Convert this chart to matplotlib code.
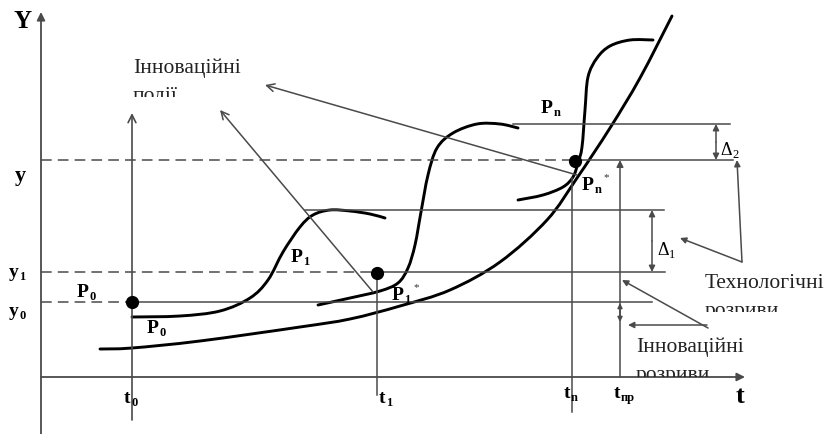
import matplotlib
matplotlib.use("Agg")
import matplotlib.pyplot as plt
from matplotlib.path import Path
from matplotlib.patches import PathPatch
from matplotlib.transforms import Bbox, TransformedBbox
import numpy as np

# ---------------- diagram geometry (pixel space of the 827x434 picture) -------------
W, H = 827, 434
axis_origin = (41, 377)
y_axis_top = 12
t_axis_right = 745

# level lines: (y, dashed_from, dashed_to, solid_to)
lvl_y = [160, 272, 302]
lvl_dash_x0 = [41, 41, 41]
lvl_dash_x1 = [572, 377, 132]
lvl_solid_x1 = [733, 665, 652]
# solid plateau lines
plat_y = [124, 210]
plat_x0 = [513, 305]
plat_x1 = [730, 664]

# vertical time lines: x, y_top, y_bottom
t_x = [132, 377, 572, 620]
t_top = [113, 273, 178, 160]
t_bot = [420, 395, 412, 377]

# curves
base_x = [100, 132, 200, 300, 350, 400, 450, 500, 547, 577, 610, 640, 672]
base_y = [349, 348, 341, 327, 319, 306, 290, 262, 220, 178, 128, 78, 16]
s1_x = [132, 180, 220, 250, 268, 283, 300, 313, 330, 350, 370, 385]
s1_y = [317, 316, 311, 298, 280, 252, 227, 215, 210, 211, 214, 218]
s2_x = [318, 350, 380, 398, 408, 415, 421, 428, 437, 453, 477, 500, 518]
s2_y = [305, 298, 291, 283, 268, 245, 212, 175, 148, 133, 124, 124, 128]
s3_x = [518, 543, 563, 573, 578, 582, 585, 588, 597, 610, 630, 653]
s3_y = [200, 195, 187, 177, 163, 147, 110, 77, 58, 46, 40, 40]

dot_x = [132, 377, 575]
dot_y = [302, 273, 161]

GRAY = "#4a4a4a"
SERIF = ["Liberation Serif", "DejaVu Serif"]

fig = plt.figure(figsize=(W / 100, H / 100), dpi=100)
ax = fig.add_axes([0, 0, 1, 1])
ax.set_xlim(0, W)
ax.set_ylim(H, 0)
ax.axis("off")


def smooth(xs, ys, **kw):
    P = np.column_stack([xs, ys]).astype(float)
    n = len(P)
    verts = [P[0]]
    codes = [Path.MOVETO]
    for i in range(n - 1):
        p0 = P[i - 1] if i > 0 else P[i]
        p1, p2 = P[i], P[i + 1]
        p3 = P[i + 2] if i + 2 < n else P[i + 1]
        c1 = p1 + (p2 - p0) / 6.0
        c2 = p2 - (p3 - p1) / 6.0
        verts += [c1, c2, p2]
        codes += [Path.CURVE4] * 3
    ax.add_patch(PathPatch(Path(verts, codes), fill=False, **kw))


def arrow(tail, head, style="-|>", lw=1.0, ms=10, color=GRAY):
    ax.annotate("", xy=head, xytext=tail,
                arrowprops=dict(arrowstyle=style, lw=lw, color=color,
                                shrinkA=0, shrinkB=0, mutation_scale=ms))


# axes
arrow((41, 434), (41, y_axis_top), lw=1.3, ms=12)
arrow((41, axis_origin[1]), (t_axis_right, axis_origin[1]), lw=1.3, ms=12)

# level lines
for y, a, b, c in zip(lvl_y, lvl_dash_x0, lvl_dash_x1, lvl_solid_x1):
    ax.plot([a, b], [y, y], color=GRAY, lw=1.1, dashes=(7, 4))
    ax.plot([b, c], [y, y], color=GRAY, lw=1.1)
for y, a, b in zip(plat_y, plat_x0, plat_x1):
    ax.plot([a, b], [y, y], color=GRAY, lw=1.1)

# time lines
arrow((t_x[0], t_bot[0]), (t_x[0], t_top[0]), style="->", lw=1.2, ms=14)
ax.plot([t_x[1], t_x[1]], [t_top[1], t_bot[1]], color=GRAY, lw=1.1)
ax.plot([t_x[2], t_x[2]], [t_top[2], t_bot[2]], color=GRAY, lw=1.1)
arrow((t_x[3], t_bot[3]), (t_x[3], t_top[3]), lw=1.1, ms=10)

# curves
for xs, ys in [(base_x, base_y), (s1_x, s1_y), (s2_x, s2_y), (s3_x, s3_y)]:
    smooth(xs, ys, color="black", lw=2.1, capstyle="round")

ax.plot(dot_x, dot_y, "o", color="black", markersize=8.5, zorder=5)

# gap arrows
arrow((716, 142), (716, 124), lw=1.1, ms=9)
arrow((716, 142), (716, 160), lw=1.1, ms=9)
arrow((652, 241), (652, 210), lw=1.1, ms=9)
arrow((652, 241), (652, 272), lw=1.1, ms=9)
arrow((620, 312), (620, 303), lw=1.1, ms=7)
arrow((620, 312), (620, 322), lw=1.1, ms=7)

# pointer arrows
arrow((742, 262), (737, 160), lw=1.1, ms=9)
arrow((742, 262), (680, 238), lw=1.1, ms=9)
arrow((707, 325), (628, 325), lw=1.1, ms=9)
arrow((708, 328), (622, 280), lw=1.1, ms=9)
arrow((373, 292), (220, 110), style="->", lw=1.1, ms=14)
arrow((577, 175), (265, 85), style="->", lw=1.1, ms=14)

fig.canvas.draw()
renderer = fig.canvas.get_renderer()


def lab(x, y, main, sub=None, sup=None, size=14, bold=True, subsize=9,
        subdy=3, supdx=4, supdy=-10):
    w = "bold" if bold else "normal"
    t = ax.text(x, y, main, fontsize=size, fontweight=w, family=SERIF,
                ha="left", va="baseline", color="black")
    bb = t.get_window_extent(renderer).transformed(ax.transData.inverted())
    xr = max(bb.x0, bb.x1)
    if sub:
        ax.text(xr + 0.5, y + subdy, sub, fontsize=subsize, fontweight=w,
                family=SERIF, ha="left", va="baseline")
    if sup:
        ax.text(xr + supdx + 6, y + supdy, sup, fontsize=8, family=SERIF,
                ha="left", va="baseline", color="#333333")


lab(13, 28, "Y", size=18)
lab(15, 181, "y", size=16)
lab(9, 277, "y", "1", size=14)
lab(9, 316, "y", "0", size=14)
lab(77, 297, "P", "0", size=14)
lab(147, 333, "P", "0", size=14)
lab(291, 262, "P", "1", size=14)
lab(392, 300, "P", "1", sup="*", size=14)
lab(541, 113, "P", "n", size=14)
lab(582, 190, "P", "n", sup="*", size=14)
lab(124, 403, "t", "0", size=14)
lab(379, 403, "t", "1", size=14)
lab(564, 398, "t", "n", size=14)
lab(614, 398, "t", "пр", size=14)
lab(736, 403, "t", size=19)
lab(720, 155, "Δ", "2", size=13, bold=False)
lab(657, 255, "Δ", "1", size=13, bold=False)

# multi-line notes whose second line is cut off
notes = [("Інноваційні", "події", 133, 73, 97),
         ("Технологічні", "розриви", 705, 288, 312),
         ("Інноваційні", "розриви", 636, 352, 377)]
for l1, l2, x, y, clip in notes:
    ax.text(x, y, l1, fontsize=15.5, family=SERIF, ha="left", va="baseline",
            color="#222222")
    t2 = ax.text(x, y + 28, l2, fontsize=15.5, family=SERIF, ha="left",
                 va="baseline", color="#222222")
    t2.set_clip_box(TransformedBbox(Bbox([[0, 0], [W, clip]]), ax.transData))
    t2.set_clip_on(True)

fig.savefig("out.png", dpi=100)
